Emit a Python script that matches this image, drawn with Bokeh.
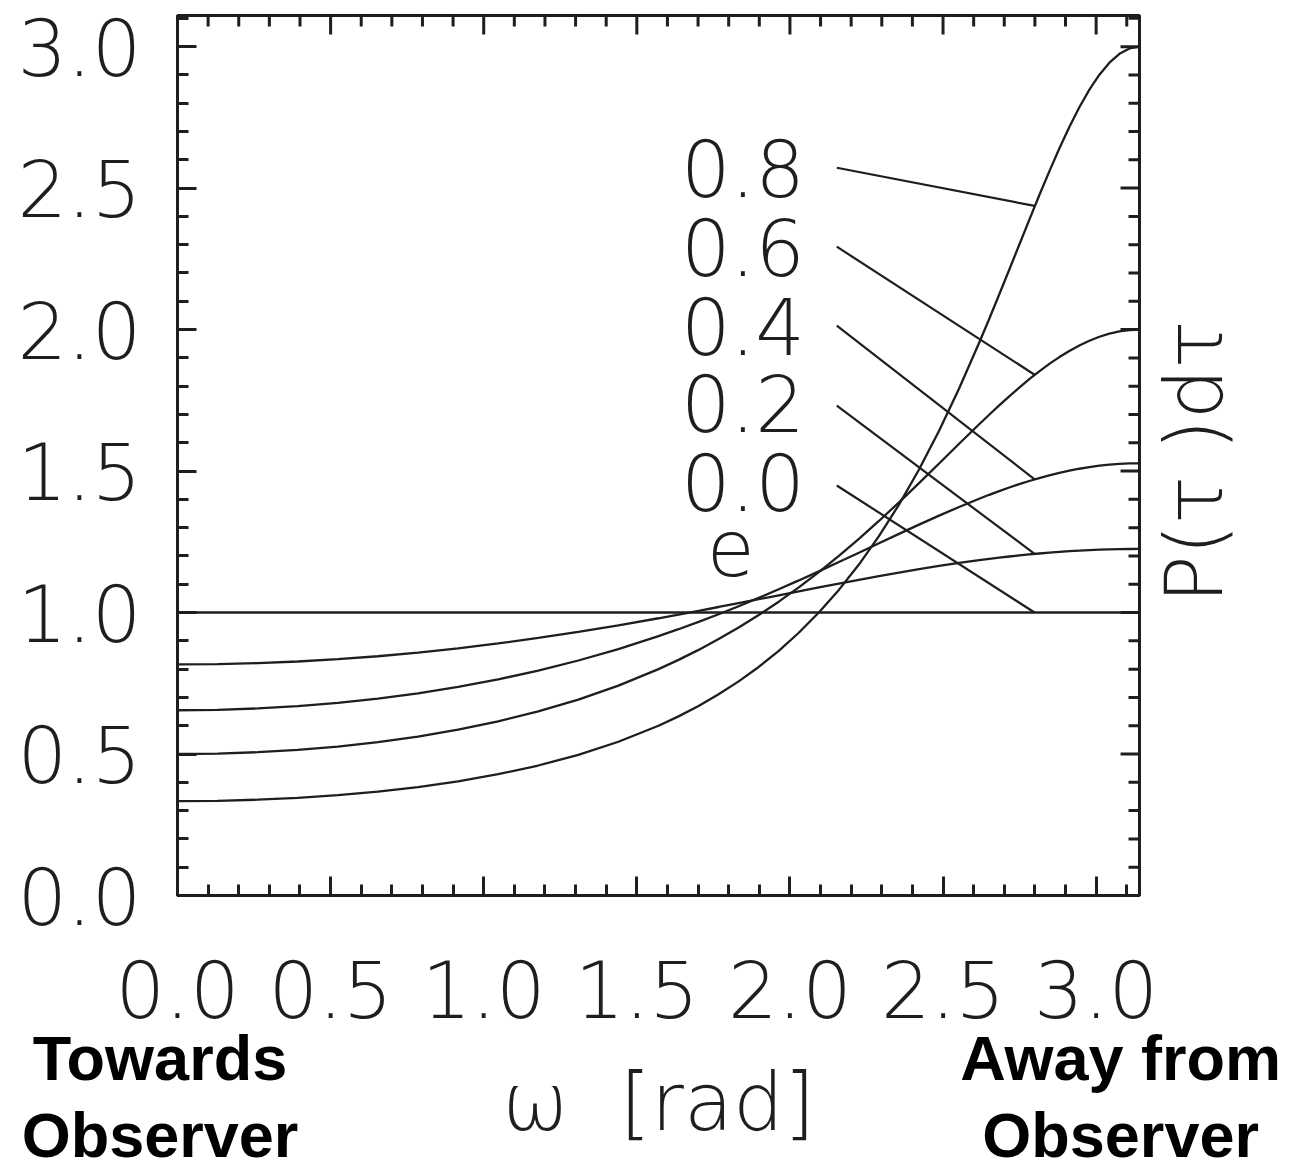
from bokeh.plotting import figure
from bokeh.models import LinearAxis, Range1d, FixedTicker, PrintfTickFormatter
from bokeh.core.properties import value
from bokeh.embed import file_html
from bokeh.resources import INLINE

# ---------------- data ----------------
omega = [0.0, 0.1309, 0.2618, 0.3927, 0.5236, 0.6545, 0.7854, 0.9163, 1.0472, 1.1781, 1.3090, 1.4399,
         1.5708, 1.6362, 1.7017, 1.7671, 1.8326, 1.8980, 1.9635, 2.0289, 2.0944, 2.1598, 2.2253, 2.2907,
         2.3562, 2.4216, 2.4871, 2.5525,
         2.6180, 2.6507, 2.6834, 2.7162, 2.7489, 2.7816, 2.8143, 2.8471, 2.8798, 2.9125, 2.9452, 2.9780,
         3.0107, 3.0434, 3.0761, 3.1089, 3.1416]

p_e02 = [0.8165, 0.8177, 0.8212, 0.8270, 0.8351, 0.8456, 0.8584, 0.8735, 0.8907, 0.9101, 0.9316, 0.9549,
         0.9798, 0.9928, 1.0061, 1.0196, 1.0333, 1.0471, 1.0610, 1.0749, 1.0887, 1.1023, 1.1156, 1.1286,
         1.1412, 1.1532, 1.1646, 1.1752,
         1.1851, 1.1896, 1.1940, 1.1981, 1.2019, 1.2054, 1.2087, 1.2117, 1.2144, 1.2168, 1.2189, 1.2207,
         1.2221, 1.2233, 1.2241, 1.2246, 1.2247]

p_e04 = [0.6547, 0.6563, 0.6611, 0.6692, 0.6807, 0.6957, 0.7144, 0.7370, 0.7638, 0.7949, 0.8305, 0.8710,
         0.9165, 0.9411, 0.9670, 0.9941, 1.0224, 1.0517, 1.0822, 1.1135, 1.1456, 1.1784, 1.2115, 1.2448,
         1.2780, 1.3107, 1.3426, 1.3732,
         1.4023, 1.4161, 1.4293, 1.4419, 1.4538, 1.4649, 1.4753, 1.4849, 1.4936, 1.5014, 1.5082, 1.5140,
         1.5189, 1.5226, 1.5254, 1.5270, 1.5275]

p_e06 = [0.5000, 0.5016, 0.5065, 0.5147, 0.5265, 0.5420, 0.5617, 0.5860, 0.6154, 0.6506, 0.6925, 0.7419,
         0.8000, 0.8327, 0.8680, 0.9061, 0.9471, 0.9912, 1.0384, 1.0890, 1.1429, 1.2000, 1.2604, 1.3236,
         1.3895, 1.4575, 1.5268, 1.5964,
         1.6653, 1.6991, 1.7321, 1.7641, 1.7950, 1.8246, 1.8525, 1.8787, 1.9028, 1.9246, 1.9440, 1.9607,
         1.9747, 1.9857, 1.9936, 1.9984, 2.0000]

p_e08 = [0.3333, 0.3346, 0.3385, 0.3450, 0.3544, 0.3670, 0.3832, 0.4035, 0.4286, 0.4594, 0.4971, 0.5433,
         0.6000, 0.6331, 0.6700, 0.7110, 0.7567, 0.8077, 0.8647, 0.9286, 1.0000, 1.0800, 1.1696, 1.2698,
         1.3815, 1.5055, 1.6424, 1.7920,
         1.9533, 2.0376, 2.1239, 2.2115, 2.2998, 2.3878, 2.4747, 2.5592, 2.6402, 2.7162, 2.7859, 2.8478,
         2.9007, 2.9433, 2.9745, 2.9936, 3.0000]

omega_e00 = [0.0, 3.1416]
p_e00 = [1.0, 1.0]

e_labels = ["0.8", "0.6", "0.4", "0.2", "0.0"]
# where each leader line meets its curve (omega = 2.80)
leader_end_val = [2.437, 1.8405, 1.4709, 1.2073, 1.0]

x_ticks = [0.0, 0.5, 1.0, 1.5, 2.0, 2.5, 3.0]
y_ticks = [0.0, 0.5, 1.0, 1.5, 2.0, 2.5, 3.0]
side_labels = {0.0: "Towards\u00a0\u00a0\nObserver\u00a0\u00a0", 3.08: "Away from\nObserver"}
y_title = "P(τ\u00a0)dτ"
x_title = "ω\u00a0\u00a0[rad]"

# ---------------- layout / style ----------------
LIGHT = "DejaVu Sans Light"
INK = "#1e1e1e"
FS = "78px"

X0, X1 = 0.0, 3.1416
Y0, Y1 = 0.0, 3.11
FRAME_W, FRAME_H = 963, 880
Y_TITLE_START = 1.032   # where the rotated right-hand title begins

label_x = 2.049
label_y = [2.572, 2.293, 2.014, 1.742, 1.463]
leader_x0 = 2.153
leader_y0 = [2.572, 2.293, 2.014, 1.731, 1.449]
leader_x1 = 2.799

p = figure(width=1290, height=1168, output_backend="svg", toolbar_location=None,
           x_range=Range1d(X0, X1), y_range=Range1d(Y0, Y1),
           x_axis_type=None, y_axis_type=None,
           min_border_left=177, min_border_right=150, min_border_top=15, min_border_bottom=273)
p.background_fill_color = "white"
p.border_fill_color = "white"
p.outline_line_color = INK
p.outline_line_width = 3

x_minor = [round(0.1 * i, 1) for i in range(0, 32)]
y_minor = [round(0.1 * i, 1) for i in range(0, 32)]


def style_axis(ax, ticks, minor, standoff):
    ax.ticker = FixedTicker(ticks=ticks, minor_ticks=minor)
    ax.major_tick_in = 19
    ax.major_tick_out = 0
    ax.minor_tick_in = 11
    ax.minor_tick_out = 0
    ax.major_tick_line_width = 3
    ax.minor_tick_line_width = 3
    ax.major_tick_line_color = INK
    ax.minor_tick_line_color = INK
    ax.axis_line_color = INK
    ax.axis_line_width = 3
    ax.formatter = PrintfTickFormatter(format="%.1f")
    ax.major_label_text_font = LIGHT
    ax.major_label_text_font_size = FS
    ax.major_label_text_color = INK
    ax.major_label_standoff = standoff


bottom = LinearAxis()
style_axis(bottom, x_ticks, x_minor, 64)
p.add_layout(bottom, "below")
left = LinearAxis()
style_axis(left, y_ticks, y_minor, 36)
p.add_layout(left, "left")

# second row under the x axis: side notes and the axis title
notes = LinearAxis(ticker=FixedTicker(ticks=list(side_labels.keys()), minor_ticks=[]),
                   major_label_overrides=side_labels)
notes.axis_line_color = None
notes.major_tick_line_color = None
notes.minor_tick_line_color = None
notes.major_tick_in = 0
notes.major_tick_out = 0
notes.minor_tick_in = 0
notes.minor_tick_out = 0
notes.major_label_text_font = "Liberation Sans"
notes.major_label_text_font_style = "bold"
notes.major_label_text_font_size = "63px"
notes.major_label_text_color = "black"
notes.major_label_text_line_height = 1.1
notes.major_label_standoff = 2
notes.axis_label = x_title
notes.axis_label_text_font = LIGHT
notes.axis_label_text_font_style = "normal"
notes.axis_label_text_font_size = "80px"
notes.axis_label_text_color = INK
notes.axis_label_standoff = -117
p.add_layout(notes, "below")

# right edge: rotated title drawn as the only label of a right-hand axis
right = LinearAxis(ticker=FixedTicker(ticks=[Y_TITLE_START], minor_ticks=[]),
                   major_label_overrides={Y_TITLE_START: y_title})
right.axis_line_color = INK
right.axis_line_width = 3
right.major_tick_line_color = None
right.minor_tick_line_color = None
right.major_tick_in = 0
right.major_tick_out = 0
right.major_label_orientation = 1.5708
right.major_label_text_font = LIGHT
right.major_label_text_font_size = "80px"
right.major_label_text_color = INK
right.major_label_standoff = 55
p.add_layout(right, "right")

# inward ticks on the top and right edges of the box
maj_dy, min_dy = 19 * (Y1 - Y0) / FRAME_H, 11 * (Y1 - Y0) / FRAME_H
maj_dx, min_dx = 19 * (X1 - X0) / FRAME_W, 11 * (X1 - X0) / FRAME_W
xmin_only = [t for t in x_minor if t not in x_ticks]
ymin_only = [t for t in y_minor if t not in y_ticks]
p.segment(x0=x_ticks, y0=[Y1] * len(x_ticks), x1=x_ticks, y1=[Y1 - maj_dy] * len(x_ticks),
          line_color=INK, line_width=3)
p.segment(x0=xmin_only, y0=[Y1] * len(xmin_only), x1=xmin_only, y1=[Y1 - min_dy] * len(xmin_only),
          line_color=INK, line_width=3)
p.segment(x0=[X1] * len(y_ticks), y0=y_ticks, x1=[X1 - maj_dx] * len(y_ticks), y1=y_ticks,
          line_color=INK, line_width=3)
p.segment(x0=[X1] * len(ymin_only), y0=ymin_only, x1=[X1 - min_dx] * len(ymin_only), y1=ymin_only,
          line_color=INK, line_width=3)

# curves
for ys in (p_e02, p_e04, p_e06, p_e08):
    p.line(omega, ys, line_color=INK, line_width=2.3)
p.line(omega_e00, p_e00, line_color=INK, line_width=2.6)

# leader lines and e labels
p.segment(x0=[leader_x0] * 5, y0=leader_y0, x1=[leader_x1] * 5, y1=leader_end_val,
          line_color=INK, line_width=2.2)
p.text(x=[label_x] * 5, y=label_y, text=e_labels, text_font=value(LIGHT), text_font_size=FS,
       text_align="right", text_baseline="middle", text_color=INK)
p.text(x=[1.807], y=[1.233], text=["e"], text_font=value(LIGHT), text_font_size=FS,
       text_align="center", text_baseline="middle", text_color=INK)

open("out.html", "w").write(file_html(p, INLINE))
